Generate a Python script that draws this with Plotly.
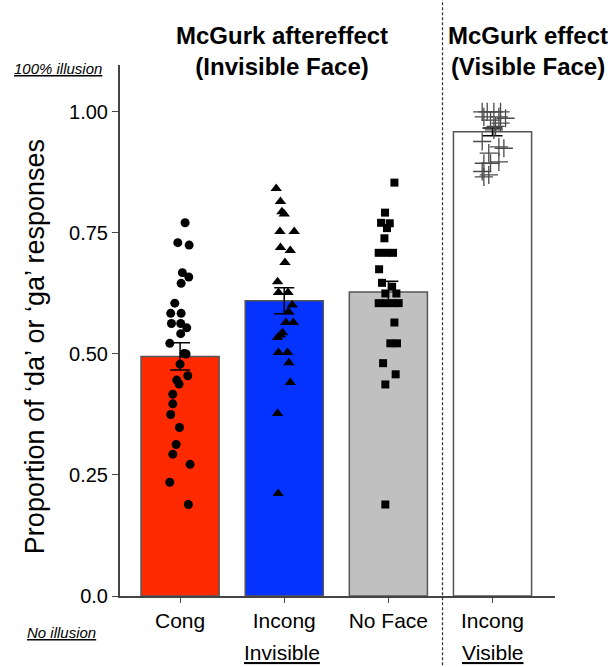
import plotly.graph_objects as go

# ---------------- data ----------------
categories = ["Cong", "Incong", "No Face", "Incong"]
bar_means = [0.495, 0.610, 0.628, 0.959]
bar_sem = [0.028, 0.027, 0.022, 0.008]
bar_colors = ["#FF2A00", "#0433FF", "#C0C0C0", "#FFFFFF"]

cong_vals = [0.771, 0.730, 0.725, 0.668, 0.659, 0.646, 0.605, 0.584, 0.584, 0.563,
             0.563, 0.554, 0.542, 0.522, 0.501, 0.500, 0.479, 0.446, 0.438, 0.455,
             0.417, 0.397, 0.375, 0.348, 0.313, 0.293, 0.272, 0.235, 0.189]
cong_jit = [0.048, -0.022, 0.087, 0.022, 0.083, 0.010, -0.051, -0.090, 0.010, -0.083,
            0.006, 0.064, 0.006, -0.099, 0.038, 0.058, 0.000, -0.032, -0.010, 0.074,
            -0.070, -0.070, -0.090, -0.006, -0.038, -0.070, 0.096, -0.099, 0.080]

incong_vals = [0.842, 0.815, 0.794, 0.789, 0.753, 0.753, 0.720, 0.714, 0.689, 0.649,
               0.627, 0.627, 0.601, 0.587, 0.565, 0.565, 0.544, 0.539, 0.534, 0.503,
               0.503, 0.482, 0.441, 0.377, 0.212]
incong_jit = [-0.077, -0.036, -0.022, 0.000, -0.041, 0.096, -0.036, 0.058, 0.007, -0.064,
              -0.055, 0.036, 0.077, 0.041, 0.016, 0.087, -0.016, -0.038, -0.064, -0.055,
              0.032, 0.045, 0.058, -0.064, -0.058]

noface_vals = [0.854, 0.792, 0.771, 0.770, 0.760, 0.739, 0.709, 0.709, 0.709, 0.675,
               0.647, 0.639, 0.625, 0.625, 0.605, 0.605, 0.605, 0.605, 0.565, 0.522,
               0.522, 0.481, 0.458, 0.437, 0.189]
noface_jit = [0.058, -0.032, -0.070, 0.013, -0.013, -0.038, -0.093, -0.022, 0.045, -0.089,
              -0.061, 0.036, -0.029, 0.077, -0.093, -0.029, 0.036, 0.099, 0.058, 0.019,
              0.083, -0.051, 0.070, -0.029, -0.029]

visible_vals = [1.000, 1.000, 1.000, 1.000, 0.990, 0.990, 0.987, 0.983, 0.977, 0.970,
                0.963, 0.939, 0.928, 0.925, 0.915, 0.897, 0.894, 0.894, 0.877, 0.870,
                0.866]
visible_jit = [-0.099, -0.051, 0.013, 0.077, -0.083, 0.061, 0.125, -0.019, 0.077, 0.029,
               0.013, -0.099, 0.061, 0.109, -0.036, 0.061, -0.083, -0.019, -0.099, -0.036,
               -0.083]

ytick_vals = [0, 0.25, 0.5, 0.75, 1.0]
ytick_text = ["0.0", "0.25", "0.50", "0.75", "1.00"]

# ---------------- figure ----------------
positions = list(range(len(categories)))
x_range = [-0.577, 3.6]
y_range = [0, 1.097]

fig = go.Figure()
fig.add_trace(go.Bar(
    x=positions, y=bar_means, width=0.75,
    marker=dict(color=bar_colors, line=dict(color="#555555", width=1.5)),
    error_y=dict(type="data", array=bar_sem, color="black", thickness=1.5, width=10),
    showlegend=False, hoverinfo="skip"))

groups = [
    (0, cong_vals, cong_jit, dict(symbol="circle", size=9, color="black")),
    (1, incong_vals, incong_jit, dict(symbol="triangle-up", size=10, color="black")),
    (2, noface_vals, noface_jit, dict(symbol="square", size=8, color="black")),
    (3, visible_vals, visible_jit, dict(symbol="cross-thin", size=13, color="#4a4a4a",
                                        line=dict(color="#4a4a4a", width=1.3))),
]
for pos, vals, jit, mk in groups:
    fig.add_trace(go.Scatter(
        x=[pos + j for j in jit], y=vals, mode="markers",
        marker=mk, showlegend=False, cliponaxis=False))

font_main = "Liberation Sans, Arial, sans-serif"

fig.update_layout(
    width=608, height=667,
    margin=dict(l=120, r=53, t=65, b=71),
    paper_bgcolor="white", plot_bgcolor="white",
    font=dict(family=font_main, color="black"),
    xaxis=dict(range=x_range, tickvals=positions, ticktext=categories,
               showgrid=False, zeroline=False, showline=True, linecolor="#444444",
               linewidth=2, ticks="outside", ticklen=5, tickcolor="#444444",
               tickfont=dict(size=21, color="black")),
    yaxis=dict(range=y_range, tickvals=ytick_vals, ticktext=ytick_text,
               showgrid=False, zeroline=False, showline=True, linecolor="#444444",
               linewidth=2, ticks="outside", ticklen=6, tickcolor="#444444",
               tickfont=dict(size=20, color="black")),
)

# dashed separator
sep_x = (2.52 - x_range[0]) / (x_range[1] - x_range[0])
fig.add_shape(type="line", xref="paper", yref="paper", x0=sep_x, x1=sep_x,
              y0=-0.14, y1=1.13, line=dict(color="#333333", width=1.2, dash="3px,2px"))

def xp(v):
    return (v - x_range[0]) / (x_range[1] - x_range[0])

anns = [
    dict(text="Proportion of ‘da’ or ‘ga’ responses", x=-0.195, y=0.469, textangle=-90,
         xanchor="center", yanchor="middle", font=dict(size=27)),
    dict(text="<b>McGurk aftereffect<br>(Invisible Face)</b>", x=xp(0.98), y=1.0, yshift=14,
         xanchor="center", yanchor="middle", font=dict(size=24)),
    dict(text="<b>McGurk effect<br>(Visible Face)</b>", x=xp(3.34), y=1.0, yshift=14,
         xanchor="center", yanchor="middle", font=dict(size=24)),
    dict(text="<i>100% illusion</i>", x=xp(-1.17), y=1.0, yshift=-3, xanchor="center",
         yanchor="middle", font=dict(size=15, lineposition="under")),
    dict(text="<i>No illusion</i>", x=xp(-1.14), y=0, yshift=-36, xanchor="center",
         yanchor="middle", font=dict(size=15, lineposition="under")),
    dict(text="Invisible", x=xp(0.98), y=0, yshift=-56, xanchor="center",
         yanchor="middle", font=dict(size=21, lineposition="under")),
    dict(text="Visible", x=xp(3.0), y=0, yshift=-56, xanchor="center",
         yanchor="middle", font=dict(size=21, lineposition="under")),
]
for a in anns:
    fig.add_annotation(xref="paper", yref="paper", showarrow=False, **a)

fig.write_html("out.html",
               config={"displayModeBar": False},
               post_script="document.body.style.margin='0';"
                           "document.body.style.overflow='hidden';")
